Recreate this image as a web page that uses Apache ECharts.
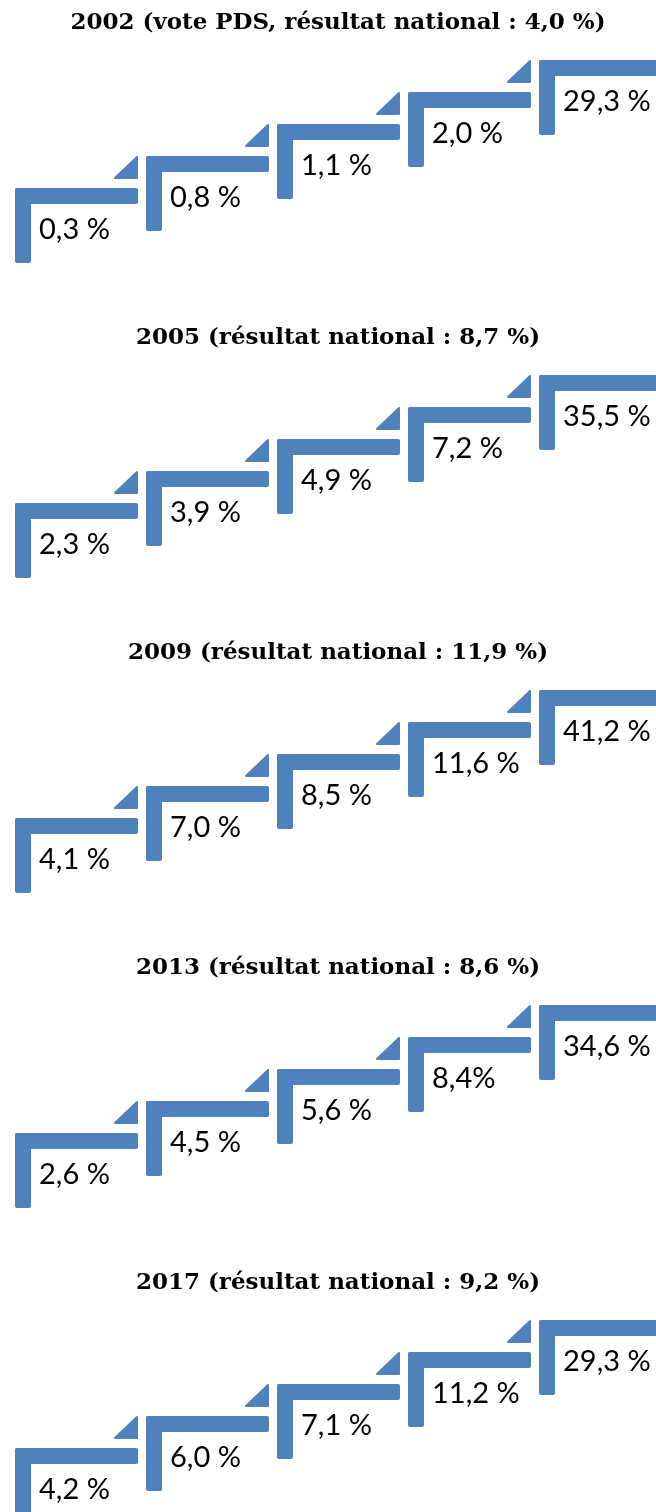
<!DOCTYPE html>
<html>
<head>
<meta charset="utf-8">
<script src="https://cdn.jsdelivr.net/npm/echarts@6/dist/echarts.min.js"></script>
<style>
html,body{margin:0;padding:0;background:#fff;}
#chart{width:656px;height:1512px;}
</style>
</head>
<body>
<div id="chart"></div>
<script>
// ---- Data ----
const years = [2002, 2005, 2009, 2013, 2017];
const titles = [
  '2002 (vote PDS, résultat national : 4,0 %)',
  '2005 (résultat national : 8,7 %)',
  '2009 (résultat national : 11,9 %)',
  '2013 (résultat national : 8,6 %)',
  '2017 (résultat national : 9,2 %)'
];
const steps = [0, 1, 2, 3, 4];            // stair step index (x) and level (y)
const values2002 = [0.3, 0.8, 1.1, 2.0, 29.3];
const values2005 = [2.3, 3.9, 4.9, 7.2, 35.5];
const values2009 = [4.1, 7.0, 8.5, 11.6, 41.2];
const values2013 = [2.6, 4.5, 5.6, 8.4, 34.6];
const values2017 = [4.2, 6.0, 7.1, 11.2, 29.3];
// separator between number and "%" as printed in the source
const sep2002 = [' ', ' ', ' ', ' ', ' '];
const sep2005 = [' ', ' ', ' ', ' ', ' '];
const sep2009 = [' ', ' ', ' ', ' ', ' '];
const sep2013 = [' ', ' ', ' ', '', ' '];
const sep2017 = [' ', ' ', ' ', ' ', ' '];

const allValues = [values2002, values2005, values2009, values2013, values2017];
const allSeps = [sep2002, sep2005, sep2009, sep2013, sep2017];

// ---- Styling ----
const BLUE = '#4F81BD';
const PANEL_H = 315;

function fmt(v, s) { return v.toFixed(1).replace('.', ',') + s + '%'; }

function makeRender(panelIdx) {
  return function (params, api) {
    const i = api.value(0), lvl = api.value(1);
    const n = steps.length;
    const p = api.coord([i, lvl]);
    const pn = api.coord([i + 1, lvl + 1]);
    const stepW = pn[0] - p[0];
    const x = p[0], y = p[1];
    const hT = 16, vT = 16, gap = 8, vLen = 75;
    const last = i === n - 1;
    const hLen = last ? api.getWidth() - x + 6 : stepW - gap;
    const children = [
      { type: 'rect', shape: { x: x, y: y, width: vT, height: vLen, r: 2 }, style: { fill: BLUE } },
      { type: 'rect', shape: { x: x, y: y, width: hLen, height: hT, r: 2 }, style: { fill: BLUE } }
    ];
    if (!last) {
      const rx = x + hLen - 1, by = y - 10, ty = pn[1] + 1;
      children.push({
        type: 'polygon',
        shape: { points: [[rx, ty], [rx, by], [rx - (by - ty) - 1, by]] },
        style: { fill: BLUE, stroke: BLUE, lineWidth: 2, lineJoin: 'round' }
      });
    }
    children.push({
      type: 'text',
      style: {
        x: x + 24, y: y + 42,
        text: fmt(allValues[panelIdx][i], allSeps[panelIdx][i]),
        fontFamily: 'Lato', fontSize: 29, fill: '#000',
        verticalAlign: 'middle', align: 'left'
      }
    });
    return { type: 'group', children: children };
  };
}

const option = {
  backgroundColor: '#fff',
  animation: false,
  title: [], grid: [], xAxis: [], yAxis: [], series: []
};

years.forEach(function (yr, k) {
  const off = PANEL_H * k;
  option.title.push({
    text: titles[k], left: 333, top: off + 7, textAlign: 'center',
    textStyle: { fontFamily: 'DejaVu Serif', fontWeight: 'bold', fontSize: 23, color: '#000' }
  });
  option.grid.push({ left: 15, top: off + 60, width: 524, height: 128 });
  option.xAxis.push({ type: 'value', gridIndex: k, min: 0, max: 4, show: false });
  option.yAxis.push({ type: 'value', gridIndex: k, min: 0, max: 4, show: false });
  option.series.push({
    type: 'custom', name: String(yr), xAxisIndex: k, yAxisIndex: k, clip: false,
    renderItem: makeRender(k),
    data: steps.map(function (s, i) { return [s, s, allValues[k][i]]; })
  });
});

const chart = echarts.init(document.getElementById('chart'), null, { renderer: 'canvas' });
chart.setOption(option);
</script>
</body>
</html>
